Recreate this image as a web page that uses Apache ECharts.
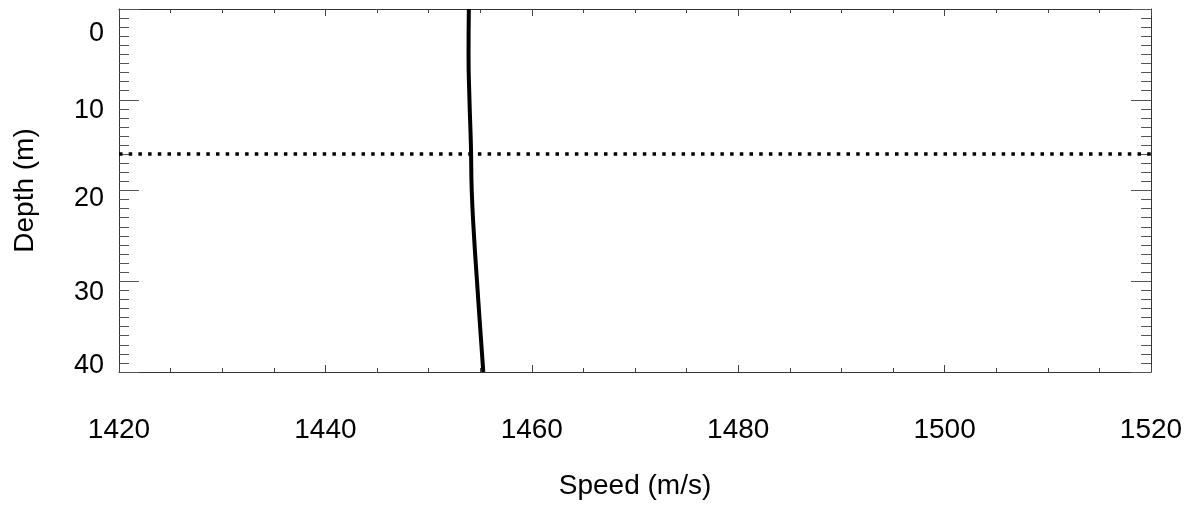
<!DOCTYPE html>
<html>
<head>
<meta charset="utf-8">
<script src="https://cdn.jsdelivr.net/npm/echarts@6/dist/echarts.min.js"></script>
<style>
html, body { margin: 0; padding: 0; background: #fff; }
#chart { width: 1194px; height: 508px; }
</style>
</head>
<body>
<div id="chart"></div>
<script>
// sound speed profile, depth in m (down) vs speed in m/s
const depth = [0, 5, 10, 15, 20, 25, 30, 35, 40];
const speed = [1453.9, 1453.87, 1453.96, 1454.1, 1454.18, 1454.4, 1454.69, 1454.99, 1455.3];
const refDepth = 16; // dotted line
const speedRange = [1420, 1520];
const depthRange = [0, 40];

const font = 'Liberation Sans, Arial, sans-serif';
const axisColor = '#333';

// y labels sit a bit off their ticks in the original, nudge them with padding
const yLabelPad = {
    0: [50, 0, 0, 0],
    10: [22, 0, 0, 0],
    20: [17, 0, 0, 0],
    30: [22, 0, 0, 0],
    40: [0, 0, 12, 0]
};
const yRich = {};
Object.keys(yLabelPad).forEach(k => {
    yRich['l' + k] = {
        fontFamily: font,
        fontSize: 27,
        color: '#000',
        align: 'right',
        padding: yLabelPad[k]
    };
});

const chart = echarts.init(document.getElementById('chart'));

const xCommon = {
    type: 'value',
    min: speedRange[0],
    max: speedRange[1],
    interval: 20,
    axisLine: { show: true, onZero: false, lineStyle: { color: axisColor, width: 1 } },
    axisTick: { show: true, inside: true, length: 7, lineStyle: { color: '#444' } },
    minorTick: { show: true, splitNumber: 4, length: 4, lineStyle: { color: '#444' } },
    splitLine: { show: false },
    minorSplitLine: { show: false }
};
const yCommon = {
    type: 'value',
    inverse: true,
    min: depthRange[0],
    max: depthRange[1],
    interval: 10,
    axisLine: { show: true, onZero: false, lineStyle: { color: axisColor, width: 1 } },
    axisTick: { show: true, inside: true, length: 20, lineStyle: { color: '#555' } },
    minorTick: { show: true, splitNumber: 10, length: 10, lineStyle: { color: '#555' } },
    splitLine: { show: false },
    minorSplitLine: { show: false }
};

const option = {
    animation: false,
    backgroundColor: '#fff',
    grid: {
        left: 119,
        right: 43,
        top: 9,
        bottom: 136,
        containLabel: false,
        outerBoundsMode: 'none'
    },
    xAxis: [
        Object.assign({}, xCommon, {
            position: 'bottom',
            name: 'Speed (m/s)',
            nameLocation: 'middle',
            nameGap: 100,
            nameTextStyle: { fontFamily: font, fontSize: 28, color: '#000' },
            axisLabel: {
                show: true,
                margin: 44,
                fontFamily: font,
                fontSize: 28,
                color: '#000',
                formatter: v => String(v)
            }
        }),
        Object.assign({}, xCommon, {
            position: 'top',
            axisLabel: { show: false }
        })
    ],
    yAxis: [
        Object.assign({}, yCommon, {
            position: 'left',
            name: 'Depth (m)',
            nameLocation: 'middle',
            nameGap: 80,
            nameTextStyle: { fontFamily: font, fontSize: 28, color: '#000' },
            axisLabel: {
                show: true,
                margin: 15,
                fontFamily: font,
                fontSize: 27,
                color: '#000',
                formatter: v => '{l' + v + '|' + v + '}',
                rich: yRich
            }
        }),
        Object.assign({}, yCommon, {
            position: 'right',
            axisLabel: { show: false }
        })
    ],
    series: [
        {
            type: 'line',
            xAxisIndex: 0,
            yAxisIndex: 0,
            data: depth.map((d, i) => [speed[i], d]),
            smooth: true,
            showSymbol: false,
            symbol: 'none',
            lineStyle: { color: '#000', width: 4 },
            markLine: {
                silent: true,
                symbol: 'none',
                label: { show: false },
                lineStyle: { color: '#000', width: 3.5, type: [3.5, 6.2] },
                data: [{ yAxis: refDepth }]
            }
        }
    ]
};

chart.setOption(option);
</script>
</body>
</html>
